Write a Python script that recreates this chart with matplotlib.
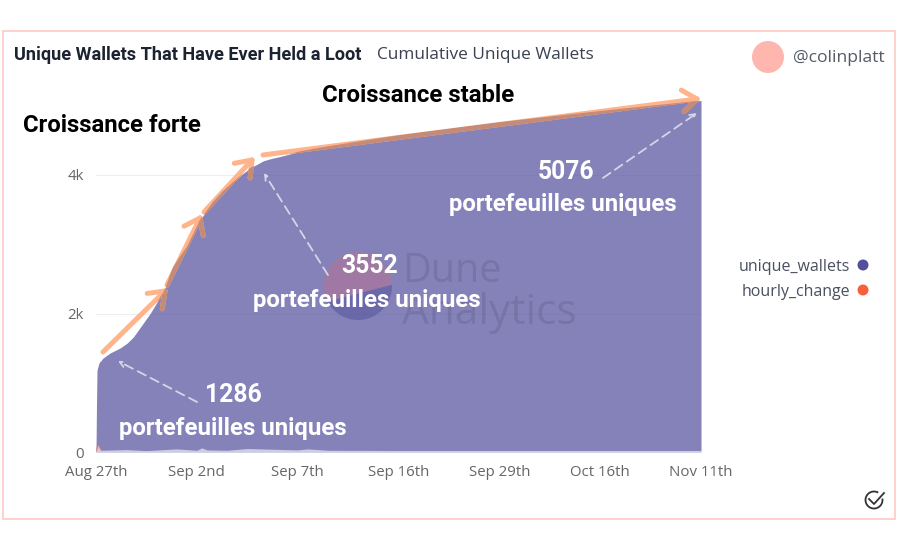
import numpy as np
import matplotlib
matplotlib.use("Agg")
import matplotlib.pyplot as plt
from matplotlib.patches import Circle, Rectangle, Polygon, Arc

# values (x in tick units, 0 = Aug 27th)
tick_labels = ["Aug 27th", "Sep 2nd", "Sep 7th", "Sep 16th", "Sep 29th", "Oct 16th", "Nov 11th"]
wallet_x = [0.0, 0.005, 0.01, 0.03, 0.07, 0.14, 0.24, 0.31, 0.37, 0.47, 0.54, 0.60, 0.68, 0.76, 0.83,
            0.90, 0.96, 1.03, 1.16, 1.26, 1.36, 1.45, 1.53, 1.66, 1.73, 1.82, 2.02, 2.22, 2.52, 3.02,
            4.01, 5.0, 6.0]
unique_wallets = [0, 700, 1184, 1286, 1357, 1430, 1502, 1574, 1660, 1863, 2007, 2152, 2339, 2657, 2816,
                  2960, 3134, 3350, 3610, 3769, 3899, 4014, 4101, 4205, 4235, 4265, 4340, 4395, 4465, 4578,
                  4765, 4924, 5076]
change_x = [0.0, 0.02, 0.05, 0.3, 0.5, 0.8, 1.0, 1.05, 1.1, 1.3, 1.5, 2.0, 2.1, 2.3, 3.0, 4.0, 5.0, 6.0]
hourly_change = [0, 110, 25, 35, 20, 45, 25, 60, 30, 25, 50, 30, 45, 25, 22, 22, 22, 22]
legend_names = ["unique_wallets", "hourly_change"]
legend_colors = ["#524f9c", "#f7603b"]

plt.rcParams['font.family'] = ['Open Sans', 'DejaVu Sans']
W, H = 900, 550
fig = plt.figure(figsize=(9, 5.5), dpi=100, facecolor='white')

ax = fig.add_axes([96 / W, (H - 452) / H, 605 / W, 362 / H])
area = ax.fill_between(wallet_x, unique_wallets, color=legend_colors[0], alpha=0.71, lw=0)
ax.fill_between(change_x, hourly_change, color='white', alpha=0.6, lw=0)
ax.plot(change_x[:3], hourly_change[:3], color=legend_colors[1], lw=0.7, alpha=0.6)
ax.set_xlim(0, 6)
ax.set_ylim(0, 362 / 0.06925)
ax.set_xticks(range(len(tick_labels)))
ax.set_xticklabels(tick_labels)
ax.set_yticks([0, 2000, 4000])
ax.set_yticklabels(["0", "2k", "4k"])
ax.tick_params(length=0, labelsize=10.8, labelcolor='#666666', pad=9)
for lab in ax.get_yticklabels():
    lab.set_verticalalignment('center_baseline')
ax.grid(axis='y', color='#eeeeee', lw=0.8)
ax.set_axisbelow(True)
for s in ax.spines.values():
    s.set_visible(False)

# overlay in pixel coordinates for the annotations
ov = fig.add_axes([0, 0, 1, 1], facecolor='none')
ov.set_xlim(0, W)
ov.set_ylim(H, 0)
ov.axis('off')

ov.add_patch(Rectangle((3, 31), 892, 488, fill=False, ec='#ffcdc8', lw=1.3))
bold = ['Roboto', 'DejaVu Sans']
ov.text(14, 55, "Unique Wallets That Have Ever Held a Loot", fontsize=13.1, fontweight='bold',
        color='#1c2230', va='center', family=bold)
ov.text(377, 55, "Cumulative Unique Wallets", fontsize=12.4, color='#3a4150', va='center')
ov.add_patch(Circle((768, 57), 16, color='#ffb6af', lw=0))
ov.text(793, 58, "@colinplatt", fontsize=12.6, color='#555b66', va='center')

# watermark, a disc cut by a chord
ang = np.radians(np.linspace(153, 358, 60))
ov.add_patch(Polygon(np.c_[358 + 34 * np.cos(ang), 286 + 34 * np.sin(ang)], color='#d8677a', alpha=0.33, lw=0))
ang = np.radians(np.linspace(-2, 153, 60))
ov.add_patch(Polygon(np.c_[358 + 34 * np.cos(ang), 286 + 34 * np.sin(ang)], color='#524f9c', alpha=0.5, lw=0))
ov.text(402, 272, "Dune", fontsize=28.5, color='#4a4a6e', alpha=0.22, va='center')
ov.text(402, 313, "Analytics", fontsize=30.5, color='#4a4a6e', alpha=0.22, va='center')

# hand drawn orange arrows, darker where they cross the area
orange = '#ffb48c'
dark = '#c48b78'
def stroke(x0, y0, x1, y1):
    ang = np.arctan2(y1 - y0, x1 - x0)
    segs = [([x0, x1], [y0, y1])]
    for da in (2.5, -2.5):
        segs.append(([x1, x1 + 18 * np.cos(ang + da)], [y1, y1 + 18 * np.sin(ang + da)]))
    for xs, ys in segs:
        ov.plot(xs, ys, color=orange, lw=3.6, solid_capstyle='round')
        l, = ov.plot(xs, ys, color=dark, lw=3.6, solid_capstyle='round')
        l.set_clip_path(area.get_paths()[0], area.get_transform())

stroke(103, 352, 165, 291)
stroke(167, 285, 200, 218)
stroke(204, 212, 252, 160)
stroke(263, 155, 697, 99)

# dashed pointers
def pointer(x0, y0, x1, y1):
    ov.annotate("", xy=(x1, y1), xytext=(x0, y0),
                arrowprops=dict(arrowstyle='->', color='#d6d5e6', lw=1.3, ls=(0, (5, 3)),
                                shrinkA=0, shrinkB=0))

pointer(197, 402, 118, 361)
pointer(328, 275, 264, 173)
pointer(603, 178, 697, 113)

ov.text(23, 125, "Croissance forte", fontsize=17.2, fontweight='bold', family=bold, va='center', color='black')
ov.text(322, 96, "Croissance stable", fontsize=17.3, fontweight='bold', family=bold, va='center', color='black')
for num, nx, ny, tx, ty in [("1286", 233, 395, 233, 428), ("3552", 370, 266, 367, 300), ("5076", 566, 172, 563, 205)]:
    ov.text(nx, ny, num, fontsize=17.8, fontweight='bold', family=bold, color='white', ha='center', va='center')
    ov.text(tx, ty, "portefeuilles uniques", fontsize=17.3, fontweight='bold', family=bold,
            color='white', ha='center', va='center')

# legend
for name, col, y in zip(legend_names, legend_colors, [267, 292]):
    ov.text(850, y, name, fontsize=11.5, color='#4a5060', ha='right', va='center')
    ov.add_patch(Circle((863, y - 2), 5.5, color=col, lw=0))

# check icon
ov.add_patch(Arc((874, 500), 17, 17, theta1=-10, theta2=300, color='#333333', lw=1.3))
ov.plot([869, 874, 884], [499, 504, 493], color='#333333', lw=1.3)

fig.savefig("out.png", dpi=100)
